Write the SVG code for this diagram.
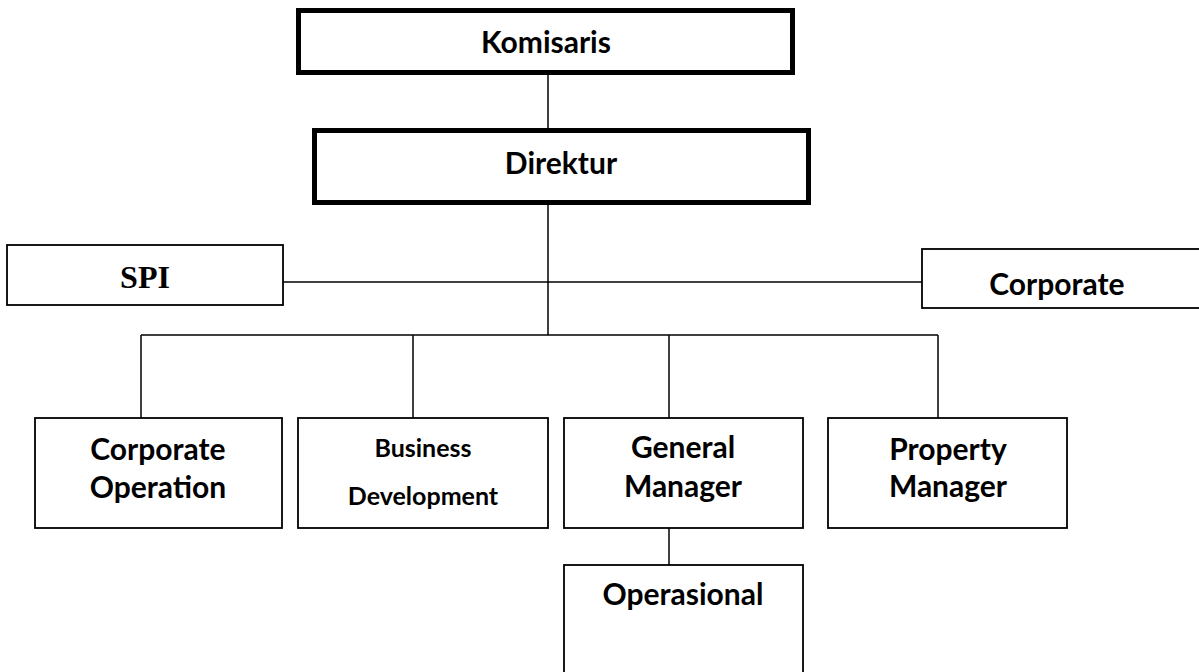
<svg xmlns="http://www.w3.org/2000/svg" width="1199" height="672" viewBox="0 0 1199 672">
  <style>
    .bg { fill: #ffffff; }
    .thick { fill: #ffffff; stroke: #000000; stroke-width: 5; }
    .thin { fill: #ffffff; stroke: #000000; stroke-width: 1.8; }
    .wire { fill: none; stroke: #000000; stroke-width: 1.5; }
    .lbl { font-family: "Lato", "Open Sans", "Liberation Sans", sans-serif; font-weight: bold; font-size: 30px; fill: #000000; text-anchor: middle; }
    .small { font-size: 25px; }
    .serif { font-family: "Liberation Serif", "Times New Roman", serif; font-weight: bold; fill: #000000; text-anchor: middle; }
  </style>
  <rect class="bg" x="0" y="0" width="1199" height="672"/>

  <!-- connectors -->
  <g id="connectors">
    <line class="wire" x1="548" y1="75" x2="548" y2="130"/>
    <line class="wire" x1="548" y1="205" x2="548" y2="335"/>
    <line class="wire" x1="283" y1="282" x2="922" y2="282"/>
    <line class="wire" x1="141" y1="335" x2="938" y2="335"/>
    <line class="wire" x1="141" y1="335" x2="141" y2="418"/>
    <line class="wire" x1="413" y1="335" x2="413" y2="418"/>
    <line class="wire" x1="669" y1="335" x2="669" y2="418"/>
    <line class="wire" x1="938" y1="335" x2="938" y2="418"/>
    <line class="wire" x1="669" y1="528" x2="669" y2="565"/>
  </g>

  <g id="komisaris">
    <rect class="thick" x="298.5" y="10.5" width="494" height="62"/>
    <text class="lbl" x="546" y="53">Komisaris</text>
  </g>

  <g id="direktur">
    <rect class="thick" x="314.5" y="130.5" width="494" height="72"/>
    <text class="lbl" x="561" y="174">Direktur</text>
  </g>

  <g id="spi">
    <rect class="thin" x="7" y="245" width="276" height="60"/>
    <text class="serif" x="145" y="288" font-size="32">SPI</text>
  </g>

  <g id="corporate">
    <rect class="thin" x="922" y="249" width="300" height="59"/>
    <text class="lbl" x="1057" y="295">Corporate</text>
  </g>

  <g id="corporate-operation">
    <rect class="thin" x="35" y="418" width="247" height="110"/>
    <text class="lbl" x="158" y="460">Corporate</text>
    <text class="lbl" x="158" y="498">Operation</text>
  </g>

  <g id="business-development">
    <rect class="thin" x="298" y="418" width="250" height="110"/>
    <text class="lbl small" x="423" y="457">Business</text>
    <text class="lbl small" x="423" y="505">Development</text>
  </g>

  <g id="general-manager">
    <rect class="thin" x="564" y="418" width="239" height="110"/>
    <text class="lbl" x="683" y="458">General</text>
    <text class="lbl" x="683" y="497">Manager</text>
  </g>

  <g id="property-manager">
    <rect class="thin" x="828" y="418" width="239" height="110"/>
    <text class="lbl" x="948" y="460">Property</text>
    <text class="lbl" x="948" y="497">Manager</text>
  </g>

  <g id="operasional">
    <rect class="thin" x="564" y="565" width="239" height="120"/>
    <text class="lbl" x="683" y="605">Operasional</text>
  </g>
</svg>
